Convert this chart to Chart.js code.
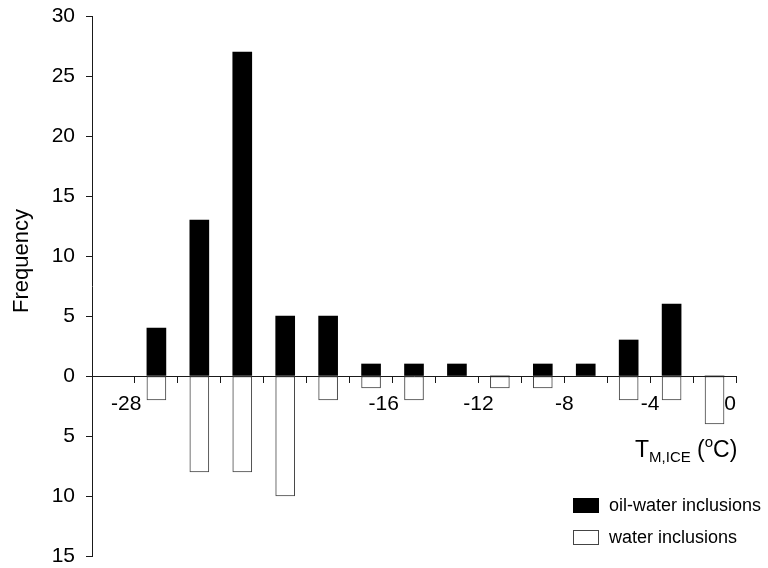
<!DOCTYPE html>
<html>
<head>
<meta charset="utf-8">
<script src="https://cdn.jsdelivr.net/npm/chart.js@4/dist/chart.umd.min.js"></script>
<style>
  html, body { margin: 0; padding: 0; background: #fff; }
  #wrap { width: 768px; height: 568px; }
</style>
</head>
<body>
<div id="wrap"><canvas id="c" width="768" height="568"></canvas></div>
<script>
// Bin centres of the ice-melting temperature histogram (°C)
const binCentres = [-27, -25, -23, -21, -19, -17, -15, -13, -11, -9, -7, -5, -3, -1];
// Counts per bin
const oilWaterCounts = [4, 13, 27, 5, 5, 1, 1, 1, 0, 1, 1, 3, 6, 0];
const waterCounts    = [2, 8, 8, 10, 2, 1, 2, 0, 1, 1, 0, 2, 2, 4];
// Temperatures that carry a tick label on the x axis
const xTickLabels = [-28, -16, -12, -8, -4, 0];
// Frequency axis ticks (water inclusions plotted downward)
const yTickValues = [-15, -10, -5, 0, 5, 10, 15, 20, 25, 30];

const FONT = "'Liberation Sans', Arial, Helvetica, sans-serif";
const AXIS = '#1a1a1a';

const oilData = binCentres.map((t, i) => ({ x: t, y: oilWaterCounts[i] }));
const waterData = binCentres.map((t, i) => ({ x: t, y: -waterCounts[i] }));

// a few labels sit slightly left of their tick
const labelTrail = { '-28': '   ', '-16': '   ', '0': '  ' };

const annotations = {
  id: 'annotations',
  afterDraw(chart) {
    const ctx = chart.ctx;
    ctx.save();
    ctx.fillStyle = '#000';

    // y axis title
    ctx.save();
    ctx.translate(22, 261);
    ctx.rotate(-Math.PI / 2);
    ctx.font = '22px ' + FONT;
    ctx.textAlign = 'center';
    ctx.textBaseline = 'middle';
    ctx.fillText('Frequency', 0, 0);
    ctx.restore();

    // x axis title: T with subscript M,ICE and (°C)
    ctx.textAlign = 'left';
    ctx.textBaseline = 'alphabetic';
    let x = 635;
    const base = 457;
    const big = '23px ' + FONT, small = '15px ' + FONT;
    const parts = [
      ['T', big, 0],
      ['M,ICE', small, 5],
      [' (', big, 0],
      ['o', small, -10],
      ['C)', big, 0]
    ];
    for (const [txt, f, dy] of parts) {
      ctx.font = f;
      ctx.fillText(txt, x, base + dy);
      x += ctx.measureText(txt).width;
    }

    // legend
    ctx.font = '18px ' + FONT;
    ctx.textBaseline = 'middle';
    ctx.fillStyle = '#000';
    ctx.fillRect(573, 498, 26, 15);
    ctx.fillText('oil-water inclusions', 609, 506);
    ctx.fillStyle = '#fff';
    ctx.fillRect(573.5, 530.5, 25, 14);
    ctx.strokeStyle = '#444';
    ctx.lineWidth = 1;
    ctx.strokeRect(573.5, 530.5, 25, 14);
    ctx.fillStyle = '#000';
    ctx.fillText('water inclusions', 609, 538);
    ctx.restore();
  }
};

new Chart(document.getElementById('c'), {
  type: 'bar',
  data: {
    datasets: [
      {
        label: 'oil-water inclusions',
        data: oilData,
        backgroundColor: '#000',
        borderColor: '#000',
        borderWidth: 0,
        barThickness: 19
      },
      {
        label: 'water inclusions',
        data: waterData,
        backgroundColor: '#fff',
        borderColor: '#444',
        borderWidth: 1,
        borderSkipped: false,
        barThickness: 19
      }
    ]
  },
  options: {
    responsive: false,
    animation: false,
    events: [],
    layout: { padding: { left: 0, right: 32, top: 16, bottom: 12 } },
    plugins: { legend: { display: false }, tooltip: { enabled: false } },
    scales: {
      x: {
        type: 'linear',
        position: { y: 0 },
        min: -30,
        max: 0,
        stacked: true,
        offset: false,
        afterFit: s => { s.paddingLeft = 0; s.paddingRight = 0; },
        border: { display: true, color: AXIS, width: 1 },
        grid: { display: true, offset: false, drawOnChartArea: false, drawTicks: true, tickLength: 6, color: AXIS },
        ticks: {
          stepSize: 2,
          autoSkip: false,
          maxRotation: 0,
          padding: 10,
          color: '#000',
          font: { family: FONT, size: 21 },
          callback: v => (xTickLabels.includes(v) ? String(v) + (labelTrail[String(v)] || '') : '')
        }
      },
      y: {
        min: -15,
        max: 30,
        stacked: true,
        afterFit: s => { s.width = 92; s.paddingTop = 0; s.paddingBottom = 0; },
        afterBuildTicks: s => { s.ticks = yTickValues.map(v => ({ value: v })); },
        border: { display: true, color: AXIS, width: 1 },
        grid: { display: true, drawOnChartArea: false, drawTicks: true, tickLength: 6, color: AXIS },
        ticks: {
          padding: 11,
          color: '#000',
          font: { family: FONT, size: 21 },
          callback: v => String(Math.abs(v))
        }
      }
    }
  },
  plugins: [annotations]
});
</script>
</body>
</html>
